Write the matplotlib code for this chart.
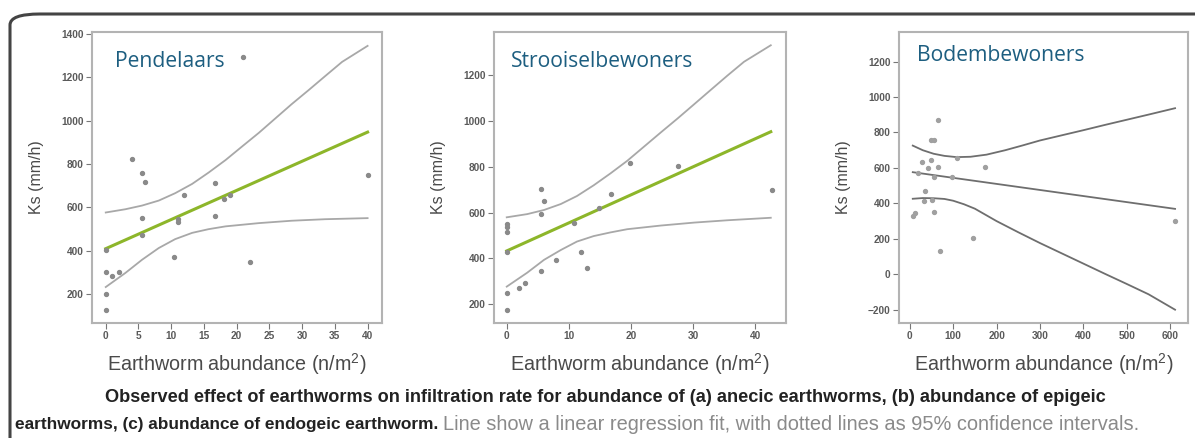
import matplotlib

matplotlib.use("Agg")
import matplotlib.pyplot as plt
from matplotlib.patches import FancyBboxPatch

# Pendelaars (anecic)
anecic_x = [21.0, 4.0, 5.6, 6.0, 16.7, 12.0, 16.7, 18.0, 19.0, 5.6, 11.0, 11.0,
            5.6, 10.5, 22.0, 40.0, 0.0, 0.0, 1.0, 2.0, 0.0, 0.0]
anecic_y = [1294, 825, 759, 717, 713, 656, 562, 637, 657, 551, 530, 545,
            472, 369, 349, 749, 401, 301, 281, 301, 200, 128]
anecic_fit_x = [0, 40]
anecic_fit_y = [409, 947]
anecic_hi_x = [0, 3.0, 5.55, 8.1, 10.6, 13.2, 15.7, 18.3, 20.8, 23.4, 25.9,
               28.4, 31.0, 33.5, 36.1, 40]
anecic_hi_y = [576, 591, 608, 631, 665, 708, 760, 818, 880, 944, 1010,
               1076, 1141, 1205, 1271, 1345]
anecic_lo_x = [0, 3.0, 5.55, 8.1, 10.6, 13.2, 15.7, 18.3, 23.4, 28.4, 33.5, 40]
anecic_lo_y = [232, 297, 358, 412, 453, 482, 499, 512, 527, 538, 545, 550]

# Strooiselbewoners (epigeic)
epigeic_x = [0, 0, 0, 0, 0, 0, 5.5, 6.0, 5.5, 5.5, 2.0, 3.0, 8.0, 10.9,
             11.9, 12.9, 14.8, 16.8, 19.8, 27.6, 42.7]
epigeic_y = [551, 539, 516, 427, 247, 174, 702, 651, 596, 347, 271, 293, 395,
             557, 427, 357, 619, 682, 816, 804, 699]
epigeic_fit_x = [0, 42.5]
epigeic_fit_y = [433, 954]
epigeic_hi_x = [0, 3.3, 6.0, 8.7, 11.3, 14.0, 16.7, 19.4, 22.1, 24.8, 27.5,
                30.2, 32.8, 35.5, 38.2, 42.5]
epigeic_hi_y = [580, 594, 612, 638, 673, 720, 772, 827, 889, 951, 1012,
                1075, 1136, 1199, 1260, 1332]
epigeic_lo_x = [0, 3.3, 6.0, 8.7, 11.3, 14.0, 16.7, 19.4, 24.8, 30.2, 35.5, 42.5]
epigeic_lo_y = [277, 338, 394, 437, 474, 498, 514, 528, 544, 557, 567, 578]

# Bodembewoners (endogeic)
endogeic_x = [65, 48, 55, 28, 48, 41, 65, 108, 174, 20, 55, 98, 36, 32, 52,
              56, 11, 7, 146, 70, 611]
endogeic_y = [869, 758, 758, 634, 642, 597, 608, 657, 606, 572, 550, 550, 471,
              413, 420, 349, 343, 326, 202, 129, 302]
endogeic_fit_x = [7, 611]
endogeic_fit_y = [576, 369]
endogeic_hi_x = [7, 30, 55, 80, 108, 140, 177, 220, 260, 300, 350, 400, 450,
                 500, 550, 611]
endogeic_hi_y = [726, 700, 680, 668, 661, 663, 675, 700, 727, 755, 784, 813,
                 843, 872, 901, 937]
endogeic_lo_x = [7, 30, 55, 80, 100, 125, 150, 175, 200, 250, 300, 350, 400,
                 450, 500, 550, 611]
endogeic_lo_y = [426, 430, 429, 425, 415, 395, 370, 335, 300, 237, 176, 118,
                 60, 2, -55, -113, -200]

titles = ["Pendelaars", "Strooiselbewoners", "Bodembewoners"]
title_pos = [(0.078, 0.90), (0.059, 0.90), (0.062, 0.918)]

W, H = 1195, 438
TITLE_BLUE = "#1d5e80"
GREEN = "#8db62a"
TEXT_GRAY = "#4a4a4a"

plt.rcParams["font.family"] = ["Liberation Sans", "DejaVu Sans"]
plt.rcParams["mathtext.fontset"] = "custom"
plt.rcParams["mathtext.rm"] = "Liberation Sans"
plt.rcParams["mathtext.it"] = "Liberation Sans:italic"


def px_axes(fig, left, top, right, bottom):
    return fig.add_axes([left / W, 1 - bottom / H, (right - left) / W, (bottom - top) / H])


def style_axis(ax):
    for spine in ax.spines.values():
        spine.set_color("#b3b3b3")
        spine.set_linewidth(1.5)
    ax.tick_params(direction="out", length=4, width=0.8, color="#777777",
                   labelsize=7.3, labelcolor="#5a5a5a", pad=2)
    for lab in ax.get_xticklabels() + ax.get_yticklabels():
        lab.set_fontweight("bold")
    ax.set_ylabel("Ks (mm/h)", fontsize=11.5, color=TEXT_GRAY, labelpad=12)
    ax.set_xlabel(r"Earthworm abundance (n/m$^2$)", fontsize=14.2,
                  color=TEXT_GRAY, labelpad=7)


fig = plt.figure(figsize=(W / 100, H / 100), dpi=100)

# rounded outer frame, clipped by the right and bottom edges
frame = FancyBboxPatch((10 / W, -0.2), 1.2, 1 - 14 / H + 0.2,
                       boxstyle="round,pad=0,rounding_size=0.025",
                       transform=fig.transFigure, fill=False,
                       edgecolor="#444444", linewidth=2.2, clip_on=False)
fig.patches.append(frame)

ax1 = px_axes(fig, 92, 32, 382, 323)
ax1.scatter(anecic_x, anecic_y, s=8, color="#8a8a8a", zorder=3)
ax1.plot(anecic_hi_x, anecic_hi_y, color="#a8a8a8", lw=1.3)
ax1.plot(anecic_lo_x, anecic_lo_y, color="#a8a8a8", lw=1.3)
ax1.plot(anecic_fit_x, anecic_fit_y, color=GREEN, lw=2.2)
ax1.set_xlim(-2.1, 42.2)
ax1.set_ylim(66, 1409)
ax1.set_xticks(range(0, 41, 5))
ax1.set_yticks(range(200, 1401, 200))

ax2 = px_axes(fig, 494, 32, 786, 323)
ax2.scatter(epigeic_x, epigeic_y, s=8, color="#8a8a8a", zorder=3)
ax2.plot(epigeic_hi_x, epigeic_hi_y, color="#a8a8a8", lw=1.3)
ax2.plot(epigeic_lo_x, epigeic_lo_y, color="#a8a8a8", lw=1.3)
ax2.plot(epigeic_fit_x, epigeic_fit_y, color=GREEN, lw=2.2)
ax2.set_xlim(-2.05, 44.95)
ax2.set_ylim(118, 1390)
ax2.set_xticks(range(0, 41, 10))
ax2.set_yticks(range(200, 1201, 200))

ax3 = px_axes(fig, 899, 32, 1188, 323)
ax3.scatter(endogeic_x, endogeic_y, s=8, color="#a0a0a0", zorder=3)
ax3.plot(endogeic_hi_x, endogeic_hi_y, color="#6e6e6e", lw=1.3)
ax3.plot(endogeic_lo_x, endogeic_lo_y, color="#6e6e6e", lw=1.3)
ax3.plot(endogeic_fit_x, endogeic_fit_y, color="#6e6e6e", lw=1.3)
ax3.set_xlim(-24.7, 640.8)
ax3.set_ylim(-275, 1367)
ax3.set_xticks(range(0, 601, 100))
ax3.set_yticks(range(-200, 1201, 200))

for ax, title, (tx, ty) in zip([ax1, ax2, ax3], titles, title_pos):
    style_axis(ax)
    ax.text(tx, ty, title, transform=ax.transAxes, fontsize=15.2,
            color=TITLE_BLUE, family=["Open Sans", "DejaVu Sans"], va="center")

# caption below the panels
fig.text(105 / W, 1 - 397 / H,
         "Observed effect of earthworms on infiltration rate for abundance of "
         "(a) anecic earthworms, (b) abundance of epigeic",
         fontsize=13.1, fontweight="bold", color="#222222", va="center")
bold_part = fig.text(15 / W, 1 - 424 / H,
                     "earthworms, (c) abundance of endogeic earthworm.",
                     fontsize=12.4, fontweight="bold", color="#222222",
                     va="center")
fig.canvas.draw()
bb = bold_part.get_window_extent()
fig.text((bb.x1 + 5) / W, 1 - 424 / H,
         "Line show a linear regression fit, with dotted lines as 95% "
         "confidence intervals.",
         fontsize=14.4, color="#8a8a8a", va="center")

fig.savefig("out.png", dpi=100)
